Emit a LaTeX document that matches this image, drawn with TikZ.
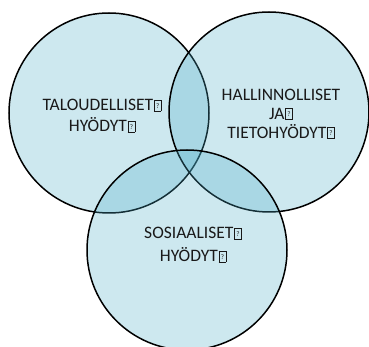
\documentclass[tikz,border=0pt]{standalone}
\usepackage{fontspec}
\setmainfont{Carlito}
\usetikzlibrary{positioning}
\definecolor{vennblue}{RGB}{75,172,198}
\newcommand{\glyphbox}{{\fboxsep=0pt\fboxrule=0.5pt\kern0.8pt\fbox{\makebox[6.5pt]{\rule{0pt}{10.5pt}\raisebox{2.5pt}{\fontsize{7}{7}\selectfont ?}}}}}

\begin{document}
\begin{tikzpicture}[x=1pt, y=-1pt,
    sector/.style={circle, draw=black, line width=1.5pt, fill=vennblue, fill opacity=0.28, minimum size=200pt, inner sep=0pt},
    venntext/.style={align=center, inner sep=0pt, text=black!90, font=\fontsize{17.5}{19}\selectfont}]
    \useasboundingbox (0,0) rectangle (369,347);
    % three overlapping areas
    \node (talous) [sector] at (109,113) {};
    \node (hallinto) [sector] at (269,112) {};
    \node (sosiaali) [sector] at (187,250) {};
    % texts
    \node (talousteksti) [venntext] at (102,116) {TALOUDELLISET\glyphbox\\[2pt]HYÖDYT\glyphbox};
    \node (hallintoteksti) [venntext] at (281,114) {HALLINNOLLISET\\JA\glyphbox\\TIETOHYÖDYT\glyphbox};
    \node (sosiaaliteksti) [venntext] at (193,245) {SOSIAALISET\glyphbox\\[4pt]HYÖDYT\glyphbox};
\end{tikzpicture}
\end{document}
